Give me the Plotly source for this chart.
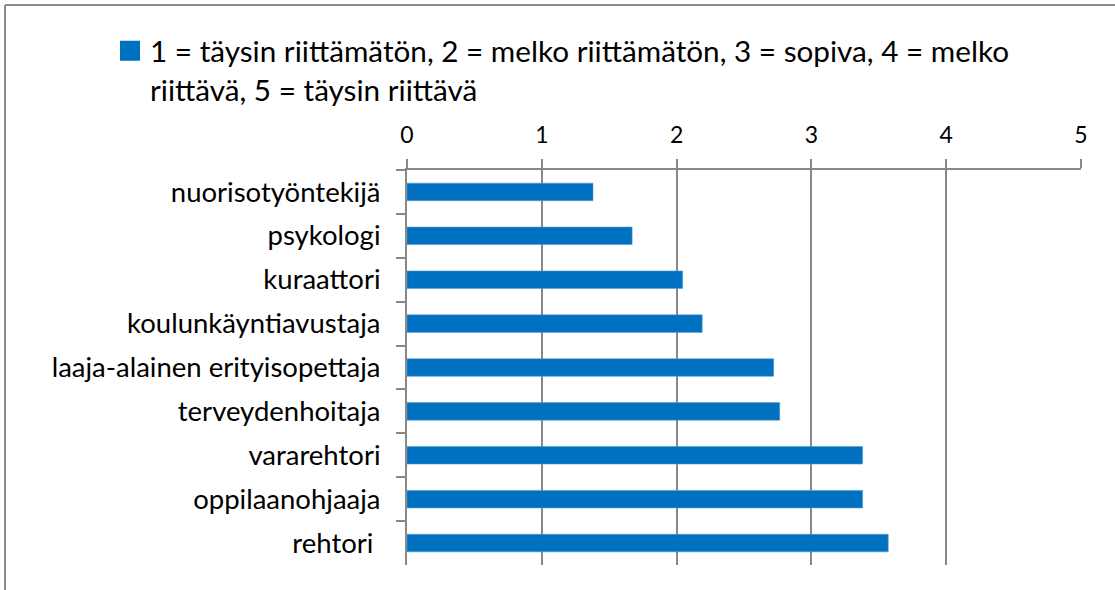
import plotly.graph_objects as go

categories = ["nuorisotyöntekijä", "psykologi", "kuraattori", "koulunkäyntiavustaja",
              "laaja-alainen erityisopettaja", "terveydenhoitaja", "vararehtori",
              "oppilaanohjaaja", "rehtori "]
values = [1.38, 1.67, 2.045, 2.19, 2.72, 2.765, 3.38, 3.38, 3.57]
x_ticks = [0, 1, 2, 3, 4, 5]
legend_name = "1 = täysin riittämätön, 2 = melko riittämätön, 3 = sopiva, 4 = melko<br>riittävä, 5 = täysin riittävä"

FONT = "Lato"
GRID = "#888888"
BLUE = "#0070C0"

fig = go.Figure()
fig.add_trace(go.Bar(
    x=values, y=categories, orientation="h", name=legend_name,
    marker=dict(color=BLUE, line=dict(color="#5b9bd5", width=0.6)),
    showlegend=False,
))
# legend entry with a larger square symbol
fig.add_trace(go.Scatter(
    x=[None], y=[None], mode="markers", name=legend_name,
    marker=dict(symbol="square", size=16, color=BLUE, line=dict(color=BLUE, width=4)),
    showlegend=True,
))

W, H = 1115, 590
L, R, T, B = 407, W - 1081, 170, H - 565
pw, ph = W - L - R, H - T - B

fig.update_layout(
    width=W, height=H,
    margin=dict(l=L, r=R, t=T, b=B, pad=0),
    paper_bgcolor="white", plot_bgcolor="white",
    font=dict(family=FONT, color="#000000", size=27),
    bargap=0.6,
    legend=dict(
        x=(110 - L) / pw, y=(H - B - 25) / ph, xanchor="left", yanchor="top",
        font=dict(size=29.7, family=FONT), valign="top",
        bgcolor="rgba(0,0,0,0)", itemwidth=30, itemsizing="trace",
    ),
    xaxis=dict(
        side="top", range=[0, 5], tickvals=x_ticks, ticktext=[str(v) for v in x_ticks],
        showgrid=True, gridcolor=GRID, gridwidth=2,
        showline=True, linecolor=GRID, linewidth=2,
        ticks="outside", ticklen=9, tickwidth=2, tickcolor=GRID,
        tickfont=dict(size=23, family=FONT), zeroline=False, ticklabelstandoff=7,
    ),
    yaxis=dict(
        categoryorder="array", categoryarray=categories, autorange="reversed",
        showline=True, linecolor=GRID, linewidth=2,
        ticks="outside", ticklen=9, tickwidth=2, tickcolor=GRID,
        tickson="boundaries", showgrid=False, zeroline=False,
        tickfont=dict(size=27.5, family=FONT), ticklabelstandoff=19,
    ),
    shapes=[
        dict(type="line", xref="paper", yref="paper",
             x0=(5 - L) / pw, x1=(5 - L) / pw, y0=(H - B - 5) / ph, y1=-0.2,
             line=dict(color="#8c8c8c", width=2)),
        dict(type="line", xref="paper", yref="paper",
             x0=(5 - L) / pw, x1=1.2, y0=(H - B - 5) / ph, y1=(H - B - 5) / ph,
             line=dict(color="#8c8c8c", width=2)),
    ],
)

fig.write_html("out.html", config={"displayModeBar": False},
               post_script="document.body.style.margin='0px';")
